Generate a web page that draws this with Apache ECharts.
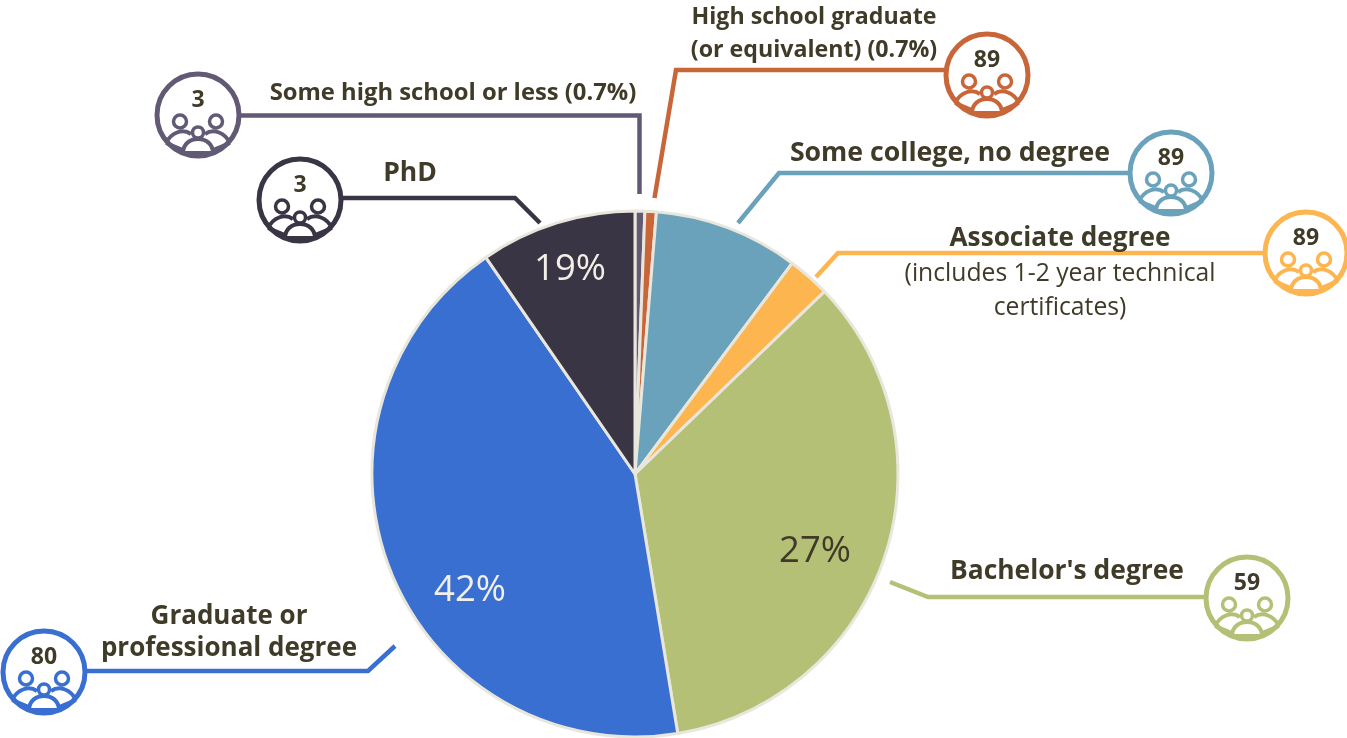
<!DOCTYPE html>
<html>
<head>
<meta charset="utf-8">
<style>html,body{margin:0;padding:0;background:#fff}#chart{width:1347px;height:738px}</style>
<script src="https://cdn.jsdelivr.net/npm/echarts@6/dist/echarts.min.js"></script>
</head>
<body>
<div id="chart"></div>
<script>
// ---- data ----
const categories = ['Some high school or less (0.7%)', 'High school graduate (or equivalent) (0.7%)', 'Some college, no degree', 'Associate degree', "Bachelor's degree", 'Graduate or professional degree', 'PhD'];
const sliceValues = [0.6, 0.7, 8.9, 2.6, 34.6, 43.0, 9.6];
const headcounts = ['3', '89', '89', '89', '59', '80', '3'];
const percentLabels = ['19%', '42%', '27%'];
const associateNote = ['(includes 1-2 year technical', 'certificates)'];

// ---- styling and layout ----
const colors = ['#625a74', '#c8663a', '#6aa2bc', '#fdb54f', '#b5c077', '#386fd0', '#3a3545'];
const inkColor = '#403a28';
const callouts = [
  { circle: [198, 115], path: [[241, 115.5], [639.5, 115.5], [639.5, 194]], size: 23.8, lines: [['Some high school or less (0.7%)', 453, 93]] },
  { circle: [987, 75], path: [[945, 70], [676, 70], [654.5, 198]], size: 23.2, lines: [['High school graduate', 814, 17.5], ['(or equivalent) (0.7%)', 814, 50.5]] },
  { circle: [1171, 173], path: [[1128, 173], [779, 173], [738, 223]], size: 26.7, lines: [['Some college, no degree', 950, 153.5]] },
  { circle: [1306, 253], path: [[1264, 253], [838, 253], [816, 277]], size: 26.2, lines: [['Associate degree', 1060, 238.5]] },
  { circle: [1247, 598], path: [[1205, 597], [928, 597], [890, 582]], size: 26.4, lines: [["Bachelor's degree", 1067, 571.5]] },
  { circle: [44, 672], path: [[87, 671], [368, 671], [395, 646]], size: 26, lines: [['Graduate or', 229, 616.5], ['professional degree', 229, 648.5]] },
  { circle: [300, 200], path: [[343, 198], [515, 198], [540, 223]], size: 26.5, lines: [['PhD', 410, 173.5]] }
];
const percentPositions = [[570, 270, '#f2efe6'], [470, 591, '#f2efe6'], [815, 552, inkColor]];
const notePositions = [[1060, 274], [1060, 308]];

// people glyph, relative to the ring centre
const glyphCurves = [
  [-32, 28, -7, 19, -27, 18, -16, 13],
  [32, 28, 7, 19, 27, 18, 16, 13],
  [-15, 38, 0, 24, -15, 29, -8, 24],
  [15, 38, 0, 24, 15, 29, 8, 24]
];
const glyphLines = [[-32, 28, -15, 35], [32, 28, 15, 35], [-14, 38, 14, 38]];
const glyphHeads = [[-18, 6.5, 6.5], [18, 6.5, 6.5], [0, 17.5, 5.5]];

function calloutGraphics(c, i) {
  const col = colors[i];
  const [cx, cy] = c.circle;
  const items = [];
  items.push({ type: 'polyline', z: 5, shape: { points: c.path }, style: { stroke: col, lineWidth: 4.5, fill: null, lineJoin: 'miter' } });
  items.push({ type: 'circle', z: 6, shape: { cx, cy, r: 41 }, style: { fill: '#fff', stroke: col, lineWidth: 5 } });
  glyphCurves.forEach(g => items.push({ type: 'bezierCurve', z: 7, shape: { x1: cx + g[0], y1: cy + g[1], x2: cx + g[2], y2: cy + g[3], cpx1: cx + g[4], cpy1: cy + g[5], cpx2: cx + g[6], cpy2: cy + g[7] }, style: { stroke: col, lineWidth: 4, fill: null } }));
  glyphLines.forEach(g => items.push({ type: 'line', z: 7, shape: { x1: cx + g[0], y1: cy + g[1], x2: cx + g[2], y2: cy + g[3] }, style: { stroke: col, lineWidth: 4 } }));
  glyphHeads.forEach(h => items.push({ type: 'circle', z: 7, shape: { cx: cx + h[0], cy: cy + h[1], r: h[2] }, style: { fill: '#fff', stroke: col, lineWidth: 3.5 } }));
  items.push({ type: 'text', z: 8, style: { text: headcounts[i], x: cx, y: cy - 15, textAlign: 'center', textVerticalAlign: 'middle', font: '700 23px "Open Sans"', fill: inkColor } });
  c.lines.forEach(l => {
    items.push({ type: 'text', z: 8, style: { text: l[0], x: l[1], y: l[2], textAlign: 'center', textVerticalAlign: 'middle', font: '700 ' + c.size + 'px "Open Sans"', fill: inkColor } });
  });
  return items;
}

const graphics = [];
callouts.forEach((c, i) => graphics.push(...calloutGraphics(c, i)));
associateNote.forEach((t, i) => graphics.push({ type: 'text', z: 8, style: { text: t, x: notePositions[i][0], y: notePositions[i][1], textAlign: 'center', textVerticalAlign: 'middle', font: '400 24.7px "Open Sans"', fill: inkColor } }));
percentLabels.forEach((t, i) => graphics.push({ type: 'text', z: 8, style: { text: t, x: percentPositions[i][0], y: percentPositions[i][1], textAlign: 'center', textVerticalAlign: 'middle', font: '400 36.5px "Open Sans"', fill: percentPositions[i][2] } }));

const chart = echarts.init(document.getElementById('chart'), null, { renderer: 'canvas' });
chart.setOption({
  animation: false,
  backgroundColor: '#ffffff',
  series: [{
    type: 'pie',
    center: [635, 474],
    radius: [0, 263],
    startAngle: 90,
    clockwise: true,
    silent: true,
    label: { show: false },
    labelLine: { show: false },
    itemStyle: { borderColor: '#e9e6dc', borderWidth: 3 },
    data: categories.map((name, i) => ({ name, value: sliceValues[i], itemStyle: { color: colors[i] } }))
  }],
  graphic: { elements: graphics }
});
</script>
</body>
</html>
